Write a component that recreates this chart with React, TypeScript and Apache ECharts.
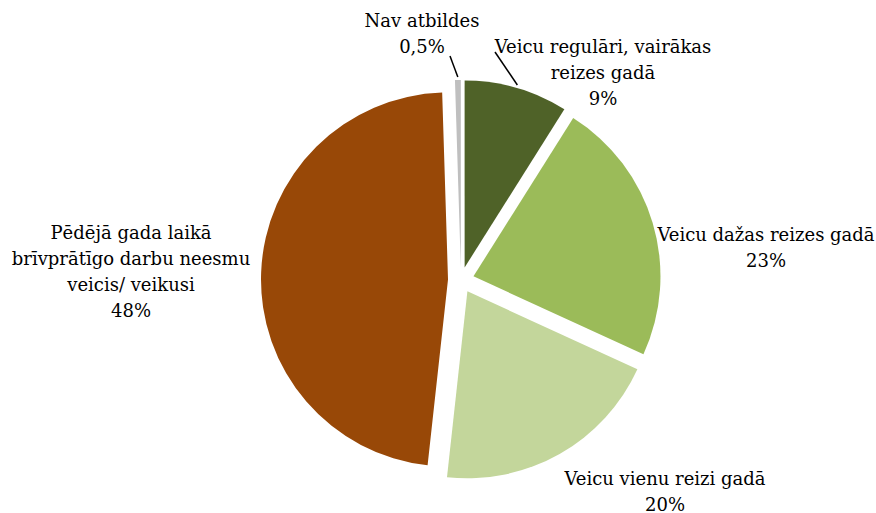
import React, { useEffect, useRef } from "react";
import * as echarts from "echarts";

const categories = [
  "Veicu regulāri, vairākas\nreizes gadā",
  "Veicu dažas reizes gadā",
  "Veicu vienu reizi gadā",
  "Pēdējā gada laikā\nbrīvprātīgo darbu neesmu\nveicis/ veikusi",
  "Nav atbildes",
];
const values = [9, 23, 20, 48, 0.5];
const colors = ["#4F6228", "#9BBB59", "#C3D69B", "#984807", "#BFBFBF"];

// layout (label centres and leader-line ends)
const CX = 461;
const CY = 280;
const R = 187;
const OFFSET = 13;
const labelPos: [number, number][] = [
  [603, 72],
  [766, 247],
  [665, 491],
  [131, 271],
  [422, 33],
];
const leaderEnd: ([number, number] | null)[] = [
  [495, 52],
  null,
  null,
  null,
  [450, 56],
];

export default function App() {
  const ref = useRef<HTMLDivElement>(null);
  useEffect(() => {
    const chart = echarts.init(ref.current!, undefined, { renderer: "svg" });
    const total = values.reduce((a, b) => a + b, 0);
    let cum = 0;
    const graphics: any[] = [];
    values.forEach((v, i) => {
      const mid = ((cum + v / 2) / total) * Math.PI * 2;
      cum += v;
      const label = categories[i] + "\n" + String(v).replace(".", ",") + "%";
      graphics.push({
        type: "text",
        x: labelPos[i][0],
        y: labelPos[i][1],
        style: {
          text: label,
          fill: "#000",
          font: '18px "DejaVu Serif"',
          lineHeight: 26,
          align: "center",
          verticalAlign: "middle",
        },
      });
      const end = leaderEnd[i];
      if (end) {
        const d = R + OFFSET + 3;
        graphics.push({
          type: "line",
          shape: {
            x1: CX + d * Math.sin(mid),
            y1: CY - d * Math.cos(mid),
            x2: end[0],
            y2: end[1],
          },
          style: { stroke: "#000", lineWidth: 1.5 },
        });
      }
    });
    chart.setOption({
      animation: false,
      backgroundColor: "#ffffff",
      graphic: graphics,
      series: [
        {
          type: "pie",
          center: [CX, CY],
          radius: R,
          startAngle: 90,
          clockwise: true,
          selectedMode: "multiple",
          selectedOffset: OFFSET,
          emphasis: { disabled: true },
          label: { show: false },
          labelLine: { show: false },
          data: categories.map((c, i) => ({
            name: c,
            value: values[i],
            selected: true,
            itemStyle: { color: colors[i] },
          })),
        },
      ],
    });
    return () => chart.dispose();
  }, []);
  return (
    <div
      ref={ref}
      style={{ position: "fixed", left: 0, top: 0, width: 876, height: 513 }}
    />
  );
}
